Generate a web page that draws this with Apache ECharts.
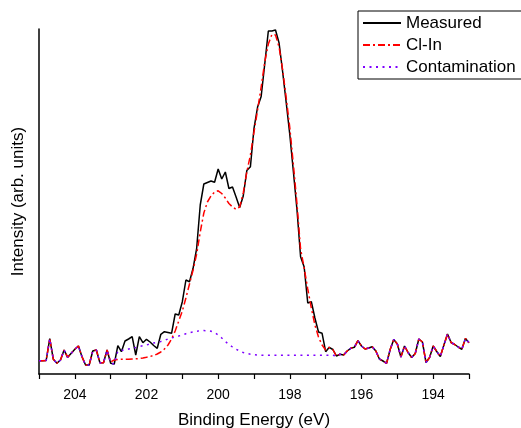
<!DOCTYPE html>
<html>
<head>
<meta charset="utf-8">
<script src="https://cdn.jsdelivr.net/npm/echarts@6/dist/echarts.min.js"></script>
<style>
  html, body { margin: 0; padding: 0; background: #fff; }
  #chart { width: 521px; height: 428px; }
</style>
</head>
<body>
<div id="chart"></div>
<script>
// binding energy grid (eV), 205.0 -> 193.0 in 0.1 steps
const energyStart = 205.0;
const energyStep = 0.1;

// intensity, arb. units
const measured = [
  13.3, 13.3, 13.5, 35.3, 14.7, 10.7, 14, 24, 16.7, 20.7,
  24.7, 28, 17.3, 9, 9, 23, 24, 11.3, 11.3, 24,
  10.7, 10, 28.3, 22.3, 33, 35, 37.3, 19, 37.3, 31.3,
  34.7, 32, 28.5, 25.7, 39.7, 42.3, 41.5, 40.7, 60, 59,
  72.3, 94, 92.3, 105.7, 125.7, 169, 190, 191.5, 193, 191.7,
  205, 195, 202, 185.5, 187, 177, 166.5, 178, 203.5, 207.3,
  245.7, 267, 277.5, 310, 343, 343, 344, 331, 302, 271,
  239, 202, 164, 117.3, 107, 71, 72.3, 56, 42, 40.7,
  22.3, 26.7, 24.5, 18, 19.7, 19, 23, 25.7, 26.7, 33.3,
  28, 25, 26, 27.3, 23, 15, 13, 10.7, 24.5, 34.5,
  30, 17, 28, 21.5, 16.5, 20.5, 35, 32, 11.5, 16.5,
  28, 22.5, 17.5, 29, 40, 31.5, 29.5, 27, 24.7, 35.5,
  31.3
];

const clIn = [
  13.3, 13.3, 13.5, 35.3, 14.7, 10.7, 14, 24, 16.7, 20.7,
  24.7, 28, 17.3, 9, 9, 23, 24, 11.3, 11.3, 24,
  12, 14, 14.5, 14.7, 14.7, 14.8, 15, 15.2, 15.5, 16,
  16.7, 17.5, 18.5, 20, 22, 25, 29, 35, 43, 53,
  63, 76, 90, 104, 120, 142, 161, 172, 178, 182,
  183.2, 180.5, 176, 170.5, 167, 164.7, 167, 181, 202, 219,
  242, 264, 287, 312, 330, 339.5, 339, 327, 304, 276,
  246, 209, 170, 125, 106, 85, 66, 49, 37, 29,
  24, 26.7, 24.5, 18, 19.7, 19, 23, 25.7, 26.7, 33.3,
  28, 25, 26, 27.3, 23, 15, 13, 10.7, 24.5, 34.5,
  30, 17, 28, 21.5, 16.5, 20.5, 35, 32, 11.5, 16.5,
  28, 22.5, 17.5, 29, 40, 31.5, 29.5, 27, 24.7, 35.5,
  31.3
];

const contamination = [
  13.3, 13.3, 13.5, 35.3, 14.7, 10.7, 14, 24, 16.7, 20.7,
  24.7, 28, 17.3, 9, 9, 23, 24, 11.3, 11.3, 24,
  10.7, 10, 23, 23.5, 24.2, 25, 25.7, 26.5, 27.5, 28.3,
  29, 30, 31, 31.8, 32.6, 33.5, 35, 36, 37, 38,
  39, 40.3, 41.3, 42, 42.8, 43.3, 43.4, 43.3, 42.8, 41.5,
  39, 36, 32.5, 29.5, 27, 24.8, 23, 21.5, 20.5, 19.8,
  19.3, 19, 18.8, 18.7, 18.7, 18.7, 18.7, 18.7, 18.7, 18.7,
  18.7, 18.7, 18.7, 18.7, 18.7, 18.7, 18.7, 18.7, 18.7, 18.7,
  18.7, 18.7, 18.7, 18, 19.7, 19, 23, 25.7, 26.7, 33.3,
  28, 25, 26, 27.3, 23, 15, 13, 10.7, 24.5, 34.5,
  30, 17, 28, 21.5, 16.5, 20.5, 35, 32, 11.5, 16.5,
  28, 22.5, 17.5, 29, 40, 31.5, 29.5, 27, 24.7, 35.5,
  31.3
];

const seriesNames = ["Measured", "Cl-In", "Contamination"];

const pairs = (vals) =>
  vals.map((v, i) => [+(energyStart - i * energyStep).toFixed(1), v]);

const font = "Liberation Sans";
const myChart = echarts.init(document.getElementById("chart"), null, { renderer: "canvas" });

const option = {
  animation: false,
  backgroundColor: "#fff",
  grid: { left: 39, right: 52, top: 29, bottom: 54, outerBoundsMode: "none" },
  legend: {
    data: seriesNames,
    orient: "vertical",
    left: 358,
    top: 11,
    padding: [3, 6, 3, 4],
    itemGap: 4,
    itemWidth: 38,
    itemHeight: 14,
    itemStyle: { opacity: 0 },
    borderColor: "#000",
    borderWidth: 1,
    textStyle: { fontFamily: font, fontSize: 17, color: "#000", lineHeight: 18 },
  },
  xAxis: {
    type: "value",
    inverse: true,
    min: 193,
    max: 205,
    interval: 1,
    name: "Binding Energy (eV)",
    nameLocation: "middle",
    nameGap: 38,
    nameTextStyle: { fontFamily: font, fontSize: 17, color: "#000" },
    axisLine: { onZero: false, lineStyle: { color: "#000", width: 1.5 } },
    axisTick: { show: true, inside: false, length: 5, lineStyle: { color: "#000", width: 1.2 } },
    axisLabel: {
      margin: 14,
      fontFamily: font,
      fontSize: 14,
      color: "#000",
      formatter: (v) => (Math.round(v) % 2 === 0 ? String(Math.round(v)) : ""),
    },
    splitLine: { show: false },
  },
  yAxis: {
    type: "value",
    min: 0,
    max: 345,
    name: "Intensity (arb. units)",
    nameLocation: "middle",
    nameGap: 12,
    nameTextStyle: { fontFamily: font, fontSize: 17, color: "#000" },
    axisLine: { show: true, lineStyle: { color: "#000", width: 1.5 } },
    axisTick: { show: false },
    axisLabel: { show: false },
    splitLine: { show: false },
  },
  series: [
    {
      name: seriesNames[0],
      type: "line",
      symbol: "none",
      data: pairs(measured),
      lineStyle: { color: "#000", width: 1.5 },
      itemStyle: { color: "#000" },
    },
    {
      name: seriesNames[1],
      type: "line",
      symbol: "none",
      data: pairs(clIn),
      lineStyle: { color: "#ff0000", width: 1.5, type: [7, 3, 2, 3] },
      itemStyle: { color: "#ff0000" },
    },
    {
      name: seriesNames[2],
      type: "line",
      symbol: "none",
      data: pairs(contamination),
      lineStyle: { color: "#7f00ff", width: 1.5, type: [2, 4.5] },
      itemStyle: { color: "#7f00ff" },
    },
  ],
};

myChart.setOption(option);
</script>
</body>
</html>
